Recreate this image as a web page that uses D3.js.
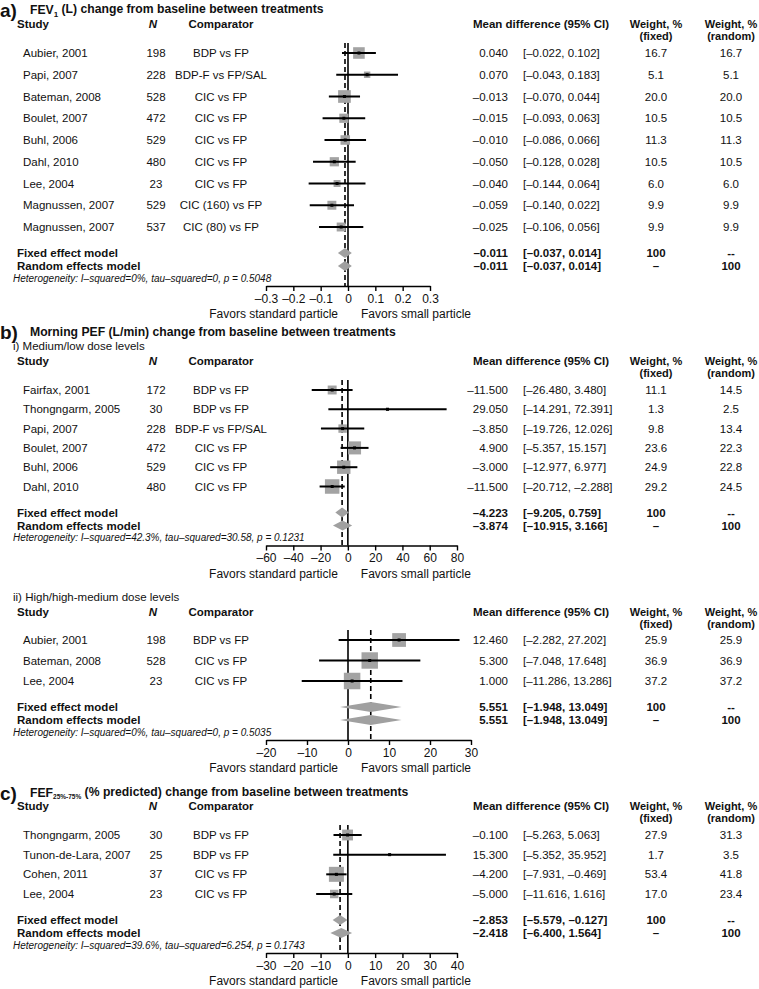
<!DOCTYPE html>
<html>
<head>
<meta charset="utf-8">
<script src="https://cdn.jsdelivr.net/npm/d3@7"></script>
<style>
  body { margin: 0; background: #fff; }
  svg { font-family: "Liberation Sans", Arial, Helvetica, sans-serif; }
</style>
</head>
<body>
<svg id="chart" width="759" height="989"></svg>
<script>
// ---- a) FEV1 (L)
const aStudies = ["Aubier, 2001", "Papi, 2007", "Bateman, 2008", "Boulet, 2007", "Buhl, 2006",
    "Dahl, 2010", "Lee, 2004", "Magnussen, 2007", "Magnussen, 2007"];
const aN = [198, 228, 528, 472, 529, 480, 23, 529, 537];
const aComparators = ["BDP vs FP", "BDP-F vs FP/SAL", "CIC vs FP", "CIC vs FP", "CIC vs FP",
    "CIC vs FP", "CIC vs FP", "CIC (160) vs FP", "CIC (80) vs FP"];
const aMean = [0.040, 0.070, -0.013, -0.015, -0.010, -0.050, -0.040, -0.059, -0.025];
const aLower = [-0.022, -0.043, -0.070, -0.093, -0.086, -0.128, -0.144, -0.140, -0.106];
const aUpper = [0.102, 0.183, 0.044, 0.063, 0.066, 0.028, 0.064, 0.022, 0.056];
const aWFixed = [16.7, 5.1, 20.0, 10.5, 11.3, 10.5, 6.0, 9.9, 9.9];
const aWRandom = [16.7, 5.1, 20.0, 10.5, 11.3, 10.5, 6.0, 9.9, 9.9];
const aFixed = [-0.011, -0.037, 0.014];
const aRandom = [-0.011, -0.037, 0.014];
const aTicks = [-0.3, -0.2, -0.1, 0, 0.1, 0.2, 0.3];
const aHet = "Heterogeneity: I\u2013squared=0%, tau\u2013squared=0, p = 0.5048";

// ---- b-i) Morning PEF, medium/low dose
const biStudies = ["Fairfax, 2001", "Thongngarm, 2005", "Papi, 2007", "Boulet, 2007", "Buhl, 2006", "Dahl, 2010"];
const biN = [172, 30, 228, 472, 529, 480];
const biComparators = ["BDP vs FP", "BDP vs FP", "BDP-F vs FP/SAL", "CIC vs FP", "CIC vs FP", "CIC vs FP"];
const biMean = [-11.5, 29.05, -3.85, 4.9, -3.0, -11.5];
const biLower = [-26.48, -14.291, -19.726, -5.357, -12.977, -20.712];
const biUpper = [3.48, 72.391, 12.026, 15.157, 6.977, -2.288];
const biWFixed = [11.1, 1.3, 9.8, 23.6, 24.9, 29.2];
const biWRandom = [14.5, 2.5, 13.4, 22.3, 22.8, 24.5];
const biFixed = [-4.223, -9.205, 0.759];
const biRandom = [-3.874, -10.915, 3.166];
const biTicks = [-60, -40, -20, 0, 20, 40, 60, 80];
const biHet = "Heterogeneity: I\u2013squared=42.3%, tau\u2013squared=30.58, p = 0.1231";

// ---- b-ii) Morning PEF, high/high-medium dose
const biiStudies = ["Aubier, 2001", "Bateman, 2008", "Lee, 2004"];
const biiN = [198, 528, 23];
const biiComparators = ["BDP vs FP", "CIC vs FP", "CIC vs FP"];
const biiMean = [12.46, 5.3, 1.0];
const biiLower = [-2.282, -7.048, -11.286];
const biiUpper = [27.202, 17.648, 13.286];
const biiWFixed = [25.9, 36.9, 37.2];
const biiWRandom = [25.9, 36.9, 37.2];
const biiFixed = [5.551, -1.948, 13.049];
const biiRandom = [5.551, -1.948, 13.049];
const biiTicks = [-20, -10, 0, 10, 20, 30];
const biiHet = "Heterogeneity: I\u2013squared=0%, tau\u2013squared=0, p = 0.5035";

// ---- c) FEF25%-75%
const cStudies = ["Thongngarm, 2005", "Tunon-de-Lara, 2007", "Cohen, 2011", "Lee, 2004"];
const cN = [30, 25, 37, 23];
const cComparators = ["BDP vs FP", "BDP vs FP", "CIC vs FP", "CIC vs FP"];
const cMean = [-0.1, 15.3, -4.2, -5.0];
const cLower = [-5.263, -5.352, -7.931, -11.616];
const cUpper = [5.063, 35.952, -0.469, 1.616];
const cWFixed = [27.9, 1.7, 53.4, 17.0];
const cWRandom = [31.3, 3.5, 41.8, 23.4];
const cFixed = [-2.853, -5.579, -0.127];
const cRandom = [-2.418, -6.4, 1.564];
const cTicks = [-30, -20, -10, 0, 10, 20, 30, 40];
const cHet = "Heterogeneity: I\u2013squared=39.6%, tau\u2013squared=6.254, p = 0.1743";

const svg = d3.select("#chart");
const dash = s => s.replace(/[-\u2212]/g, "\u2013");
const f3 = d => dash(d3.format(".3f")(d));
const f1 = d => d3.format(".1f")(d);

const panels = [
    { letter: "a)", title: ["FEV", "1", " (L) change from baseline between treatments"], titleY: 10,
      studies: aStudies, n: aN, comp: aComparators, mean: aMean, lower: aLower, upper: aUpper,
      wf: aWFixed, wr: aWRandom, fixed: aFixed, random: aRandom, ticks: aTicks, het: aHet,
      tickFmt: d => d === 0 ? "0" : dash(d3.format(".1f")(d)),
      headerY: 24, firstRow: 53, lastRow: 227, lineTop: 43, right: 430, maxBox: 12.7 },
    { letter: "b)", title: ["Morning PEF (L/min) change from baseline between treatments"], titleY: 332,
      sub: "i) Medium/low dose levels", subY: 346,
      studies: biStudies, n: biN, comp: biComparators, mean: biMean, lower: biLower, upper: biUpper,
      wf: biWFixed, wr: biWRandom, fixed: biFixed, random: biRandom, ticks: biTicks, het: biHet,
      tickFmt: d => dash(String(d)),
      headerY: 361, firstRow: 390, lastRow: 486.5, lineTop: 380, right: 457, maxBox: 14.5 },
    { sub: "ii) High/high-medium dose levels", subY: 597,
      studies: biiStudies, n: biiN, comp: biiComparators, mean: biiMean, lower: biiLower, upper: biiUpper,
      wf: biiWFixed, wr: biiWRandom, fixed: biiFixed, random: biiRandom, ticks: biiTicks, het: biiHet,
      tickFmt: d => dash(String(d)),
      headerY: 612, firstRow: 640, lastRow: 681, lineTop: 630, right: 471, maxBox: 16.5 },
    { letter: "c)", title: ["FEF", "25%-75%", " (% predicted) change from baseline between treatments"], titleY: 793,
      studies: cStudies, n: cN, comp: cComparators, mean: cMean, lower: cLower, upper: cUpper,
      wf: cWFixed, wr: cWRandom, fixed: cFixed, random: cRandom, ticks: cTicks, het: cHet,
      tickFmt: d => dash(String(d)),
      headerY: 806, firstRow: 835, lastRow: 894, lineTop: 825, right: 457, maxBox: 15 }
];

const col = { study: 17, studyRow: 23, n: 156, comp: 221, est: 508, ci: 523, mdHead: 473, wf: 656, wr: 731 };

panels.forEach(drawPanel);

function txt(g, x, y, s, opts = {}) {
    return g.append("text")
        .attr("x", x).attr("y", y).attr("dy", "0.35em")
        .attr("font-size", opts.size || 11.5)
        .attr("font-weight", opts.bold ? "bold" : null)
        .attr("font-style", opts.italic ? "italic" : null)
        .attr("text-anchor", opts.anchor || "start")
        .attr("fill", "#111")
        .text(s);
}

function drawPanel(p) {
    const g = svg.append("g");
    const x = d3.scaleLinear().domain(d3.extent(p.ticks)).range([266, p.right]);
    const idx = d3.range(p.studies.length);
    const y = d3.scalePoint().domain(idx).range([p.firstRow, p.lastRow]);
    const fixedY = p.lastRow + 26, randomY = fixedY + 13, hetY = randomY + 12, axisY = hetY + 8;
    const box = d3.scaleSqrt().domain([0, d3.max(p.wf)]).range([0, p.maxBox]);

    // panel letter + title
    if (p.letter) {
        txt(g, 0, p.titleY, p.letter, { size: 19, bold: true });
        const t = txt(g, 30, p.titleY, "", { size: 12.2, bold: true });
        t.append("tspan").text(p.title[0]);
        if (p.title.length > 1) {
            t.append("tspan").attr("font-size", p.title[1].length > 1 ? 6.5 : 8).attr("dy", "0.3em").text(p.title[1]);
            t.append("tspan").attr("dy", "-0.3em").text(p.title[2]);
        }
    }
    if (p.sub) txt(g, 13, p.subY, p.sub, { size: 11.5 });

    // header
    const hy = p.headerY;
    txt(g, col.study, hy, "Study", { bold: true });
    txt(g, col.n - 3, hy, "N", { bold: true, italic: true, anchor: "middle" });
    txt(g, col.comp, hy, "Comparator", { bold: true, anchor: "middle" });
    txt(g, col.mdHead, hy, "Mean difference (95% CI)", { bold: true });
    txt(g, col.wf, hy, "Weight, %", { bold: true, anchor: "middle", size: 11 });
    txt(g, col.wf, hy + 12, "(fixed)", { bold: true, anchor: "middle", size: 11 });
    txt(g, col.wr, hy, "Weight, %", { bold: true, anchor: "middle", size: 11 });
    txt(g, col.wr, hy + 12, "(random)", { bold: true, anchor: "middle", size: 11 });

    // study rows (text)
    idx.forEach(i => {
        const yy = y(i);
        txt(g, col.studyRow, yy, p.studies[i]);
        txt(g, col.n, yy, p.n[i], { anchor: "middle" });
        txt(g, col.comp, yy, p.comp[i], { anchor: "middle" });
        txt(g, col.est, yy, f3(p.mean[i]), { anchor: "end" });
        txt(g, col.ci, yy, `[${f3(p.lower[i])}, ${f3(p.upper[i])}]`);
        txt(g, col.wf, yy, f1(p.wf[i]), { anchor: "middle" });
        txt(g, col.wr, yy, f1(p.wr[i]), { anchor: "middle" });
    });

    // model rows
    [[fixedY, "Fixed effect model", p.fixed, "100", "--"],
     [randomY, "Random effects model", p.random, "\u2013", "100"]].forEach(([yy, label, m, a, b]) => {
        txt(g, col.study, yy, label, { bold: true });
        txt(g, col.est, yy, f3(m[0]), { anchor: "end", bold: true });
        txt(g, col.ci, yy, `[${f3(m[1])}, ${f3(m[2])}]`, { bold: true });
        txt(g, col.wf, yy, a, { anchor: "middle", bold: true });
        txt(g, col.wr, yy, b, { anchor: "middle", bold: true });
    });
    txt(g, 13, hetY, p.het, { size: 10, italic: true });

    // reference lines
    g.append("line")
        .attr("x1", x(0)).attr("x2", x(0)).attr("y1", p.lineTop).attr("y2", axisY)
        .attr("stroke", "#000").attr("stroke-width", 1.6);
    g.append("line")
        .attr("x1", x(p.fixed[0])).attr("x2", x(p.fixed[0])).attr("y1", p.lineTop).attr("y2", axisY)
        .attr("stroke", "#000").attr("stroke-width", 1.6).attr("stroke-dasharray", "5,3");

    // squares, CIs, points
    g.selectAll("rect.box").data(idx).join("rect")
        .attr("class", "box")
        .attr("x", i => x(p.mean[i]) - box(p.wf[i]) / 2)
        .attr("y", i => y(i) - box(p.wf[i]) / 2)
        .attr("width", i => box(p.wf[i]))
        .attr("height", i => box(p.wf[i]))
        .attr("fill", "#a3a3a3");
    g.selectAll("line.ci").data(idx).join("line")
        .attr("class", "ci")
        .attr("x1", i => x(p.lower[i])).attr("x2", i => x(p.upper[i]))
        .attr("y1", i => y(i)).attr("y2", i => y(i))
        .attr("stroke", "#000").attr("stroke-width", 2);
    g.selectAll("rect.pt").data(idx).join("rect")
        .attr("class", "pt")
        .attr("x", i => x(p.mean[i]) - 1.5).attr("y", i => y(i) - 1.5)
        .attr("width", 3).attr("height", 3).attr("fill", "#000");

    // diamonds
    [[fixedY, p.fixed], [randomY, p.random]].forEach(([yy, m]) => {
        g.append("path")
            .attr("d", `M${x(m[1])},${yy}L${x(m[0])},${yy - 5}L${x(m[2])},${yy}L${x(m[0])},${yy + 5}Z`)
            .attr("fill", "#a0a0a0");
    });

    // axis
    const ax = g.append("g")
        .attr("transform", `translate(0,${axisY})`)
        .call(d3.axisBottom(x).tickValues(p.ticks).tickFormat(p.tickFmt).tickSize(5).tickSizeOuter(0));
    ax.select(".domain").attr("stroke-width", 1.6).attr("stroke", "#000");
    ax.selectAll(".tick line").attr("stroke-width", 1.4).attr("stroke", "#000");
    ax.selectAll(".tick text").attr("font-size", 12).attr("font-family", null).attr("fill", "#111").attr("y", 8);

    txt(g, x(0) - 10, axisY + 28, "Favors standard particle", { anchor: "end", size: 12 });
    txt(g, x(0) + 13, axisY + 28, "Favors small particle", { size: 12 });
}
</script>
</body>
</html>
